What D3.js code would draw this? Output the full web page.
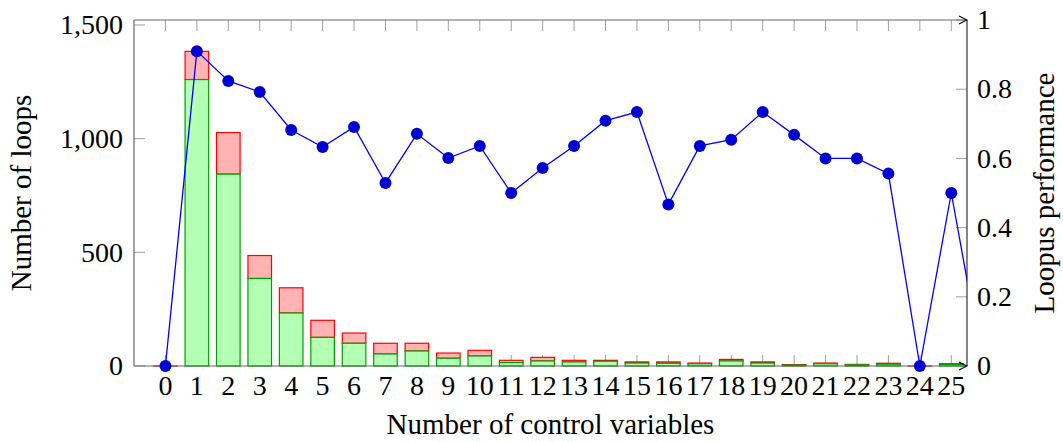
<!DOCTYPE html>
<html>
<head>
<meta charset="utf-8">
<script src="https://cdn.jsdelivr.net/npm/d3@7"></script>
<style>
  html, body { margin: 0; padding: 0; background: #fff; }
</style>
</head>
<body>
<svg id="chart" width="1063" height="442"></svg>
<script>
// Number of control variables per loop
const categories = [0,1,2,3,4,5,6,7,8,9,10,11,12,13,14,15,16,17,18,19,20,21,22,23,24,25];
// Loops whose bound Loopus computed (green) and loops it did not (red), stacked
const solvedLoops   = [0,1260,844,385,233,126,100,53,66,34,44,15,22,18,21,13,12,10,22,13,4,10,5,8,0,7];
const unsolvedLoops = [0,124,183,101,111,75,45,47,34,23,25,10,16,7,4,5,6,3,7,5,2,3,2,4,0,3];
// Share of loops handled, per number of control variables (last point lies past the axis end)
const perfX = [0,1,2,3,4,5,6,7,8,9,10,11,12,13,14,15,16,17,18,19,20,21,22,23,24,25,26];
const perfY = [0,0.91,0.824,0.792,0.682,0.633,0.691,0.529,0.671,0.601,0.636,0.5,0.572,0.636,0.709,0.734,0.467,0.636,0.654,0.734,0.668,0.6,0.6,0.556,0,0.5,0];
const leftTicks = [0,500,1000,1500];
const rightTicks = [0,0.2,0.4,0.6,0.8,1];

const FONT = "'Liberation Serif', 'Times New Roman', 'DejaVu Serif', serif";
const svg = d3.select("#chart").attr("font-family", FONT);
const L = 134, R = 967, T = 20, B = 366;

const x = d3.scaleLinear().domain([-1, 25.5]).range([L, R]);
const yL = d3.scaleLinear().domain([0, 1522]).range([B, T]);
const yR = d3.scaleLinear().domain([0, 1]).range([B, T]);
const barW = x(0.75) - x(0);

const tickFont = 28, titleFont = 29;
const fmt = d3.format(",");

// arrow head marker
const defs = svg.append("defs");
defs.append("marker")
  .attr("id", "arr").attr("viewBox", "0 0 10 10").attr("refX", 9).attr("refY", 5)
  .attr("markerWidth", 10).attr("markerHeight", 10).attr("markerUnits", "userSpaceOnUse")
  .attr("orient", "auto")
  .append("path").attr("d", "M1,1 L9,5 L1,9").attr("fill", "none").attr("stroke", "#000").attr("stroke-width", 1.1);
defs.append("clipPath").attr("id", "plotclip")
  .append("rect").attr("x", L).attr("y", T - 8).attr("width", R - L).attr("height", B - T + 16);

// tick marks (inward) on all four sides
const tickLen = 11, tickCol = "#a0a0a0";
const gTicks = svg.append("g").attr("stroke", tickCol).attr("stroke-width", 1);
gTicks.selectAll(".xb").data(categories).join("line")
  .attr("x1", d => x(d)).attr("x2", d => x(d)).attr("y1", B).attr("y2", B - tickLen);
gTicks.selectAll(".xt").data(categories).join("line")
  .attr("x1", d => x(d)).attr("x2", d => x(d)).attr("y1", T).attr("y2", T + tickLen);
gTicks.selectAll(".yl").data(leftTicks).join("line")
  .attr("x1", L).attr("x2", L + tickLen).attr("y1", d => yL(d)).attr("y2", d => yL(d));
gTicks.selectAll(".yr").data(rightTicks).join("line")
  .attr("x1", R).attr("x2", R - tickLen).attr("y1", d => yR(d)).attr("y2", d => yR(d));

// stacked bars: totals in red behind, solved part in green in front
const totals = categories.map((c, i) => solvedLoops[i] + unsolvedLoops[i]);
svg.append("g").selectAll("rect").data(categories).join("rect")
  .attr("x", d => x(d) - barW / 2)
  .attr("width", barW)
  .attr("y", (d, i) => yL(totals[i]))
  .attr("height", (d, i) => yL(solvedLoops[i]) - yL(totals[i]) + 0.01)
  .attr("fill", "#ffb3b3").attr("stroke", "#ff0000").attr("stroke-width", 1.2);
svg.append("g").selectAll("rect").data(categories.filter((c, i) => solvedLoops[i] > 0)).join("rect")
  .attr("x", d => x(d) - barW / 2)
  .attr("width", barW)
  .attr("y", d => yL(solvedLoops[d]))
  .attr("height", d => yL(0) - yL(solvedLoops[d]))
  .attr("fill", "#b3ffb3").attr("stroke", "#00a000").attr("stroke-width", 1.2);

// frame
const frame = svg.append("g").attr("fill", "none");
frame.append("line").attr("x1", L).attr("x2", L).attr("y1", T).attr("y2", B).attr("stroke", "#666").attr("stroke-width", 1.2);
frame.append("line").attr("x1", R).attr("x2", R).attr("y1", T).attr("y2", B).attr("stroke", "#333").attr("stroke-width", 1.2);
frame.append("line").attr("x1", L).attr("x2", R).attr("y1", T).attr("y2", T).attr("stroke", "#666").attr("stroke-width", 1.2).attr("marker-end", "url(#arr)");
frame.append("line").attr("x1", L).attr("x2", R).attr("y1", B).attr("y2", B).attr("stroke", "#666").attr("stroke-width", 1.2).attr("marker-end", "url(#arr)");

// performance line on the right axis
const pts = perfX.map((d, i) => [d, perfY[i]]);
svg.append("g").attr("clip-path", "url(#plotclip)")
  .append("path").datum(pts)
  .attr("d", d3.line().x(d => x(d[0])).y(d => yR(d[1])))
  .attr("fill", "none").attr("stroke", "#0000ff").attr("stroke-width", 1.3);
svg.append("g").selectAll("circle").data(pts.filter(p => p[0] <= 25)).join("circle")
  .attr("cx", d => x(d[0])).attr("cy", d => yR(d[1])).attr("r", 6)
  .attr("fill", "#0000d0");

// tick labels
const txt = (size) => (sel) => sel.attr("font-family", FONT).attr("font-size", size).attr("fill", "#000");
svg.append("g").selectAll("text").data(categories).join("text")
  .attr("x", d => x(d)).attr("y", 395)
  .attr("text-anchor", "middle").call(txt(tickFont)).text(d => d);
svg.append("g").selectAll("text").data(leftTicks).join("text")
  .attr("x", 123).attr("y", d => yL(d)).attr("dy", "0.33em")
  .attr("text-anchor", "end").call(txt(tickFont)).text(d => fmt(d));
svg.append("g").selectAll("text").data(rightTicks).join("text")
  .attr("x", 977).attr("y", d => yR(d)).attr("dy", "0.33em")
  .attr("text-anchor", "start").call(txt(tickFont)).text(d => d);

// axis titles
svg.append("text").attr("x", (L + R) / 2).attr("y", 434)
  .attr("text-anchor", "middle").call(txt(titleFont)).text("Number of control variables");
svg.append("text").attr("transform", "translate(31,193) rotate(-90)")
  .attr("text-anchor", "middle").call(txt(titleFont)).text("Number of loops");
svg.append("text").attr("transform", "translate(1054,193) rotate(-90)")
  .attr("text-anchor", "middle").call(txt(titleFont)).text("Loopus performance");
</script>
</body>
</html>
